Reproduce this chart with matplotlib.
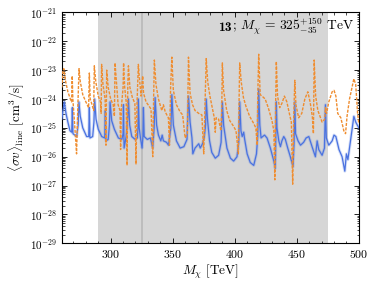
import numpy as np
import matplotlib
matplotlib.use("Agg")
import matplotlib.pyplot as plt
from matplotlib.ticker import MultipleLocator, LogLocator, NullFormatter

plt.rcParams["font.family"] = "serif"
plt.rcParams["font.serif"] = ["cmr10"]
plt.rcParams["mathtext.fontset"] = "cm"
plt.rcParams["axes.formatter.use_mathtext"] = True
plt.rcParams["axes.unicode_minus"] = False

# blue curve: (mass [TeV], log10 <sigma v>)
blue_x = [260.7, 261.5, 262.6, 264, 265.5, 267.2, 268.6, 269.1, 269.6, 272.6, 273.8, 274.4,
          275.5, 277.5, 280.6, 282.3, 282.8, 283.3, 285.5, 286.5, 287.1, 288.2, 290, 292.8,
          295.2, 295.7, 296.2, 298, 299, 299.5, 300.8, 303, 306.2, 309, 310.0, 310.3, 310.8,
          312.5, 313.8, 314.3, 315.3, 317, 319.7, 321.5, 322.0, 322.3, 323, 324, 325.3, 326.0,
          326.4, 327, 329.5, 332, 333.9, 335, 335.8, 337, 338.5, 340.4, 341.5, 342.5, 345,
          346.6, 348.5, 349.3, 350.5, 353, 356, 359, 361.5, 362.7, 364, 365.5, 366.2, 368, 371,
          372.2, 374, 375.5, 376.5, 377.0, 378, 379.7, 381.5, 384.3, 387, 389, 390, 391, 393.7,
          396.5, 399.1, 401.8, 403.2, 404, 405, 406, 407.2, 408, 410, 412.5, 415.3, 417.5,
          418.5, 419.3, 420.2, 421.2, 422.5, 424, 426, 428.7, 431.5, 432.7, 433.5, 434, 435.5,
          436.8, 438, 439.5, 440.8, 442.7, 444.8, 447, 447.8, 448.4, 449, 451, 453, 455.5,
          457.5, 459.7, 462.3, 465, 466.4, 467.7, 470.4, 472.3, 473.1, 473.8, 475.8, 478.5,
          480, 481.5, 484, 486.5, 488.7, 490, 491.2, 492.5, 494.5, 496, 497.5, 500]
blue_logy = [-24.7, -24.4, -24.1, -24.5, -24.8, -25.1, -25.15, -24.3, -25.2, -25.3, -24.9, -24.1,
             -24.6, -25.0, -25.3, -25.3, -24.3, -25.35, -25.3, -24.8, -24.0, -24.7, -25.05, -25.3,
             -25.35, -24.4, -25.45, -25.4, -24.9, -24.1, -24.75, -25.05, -25.35, -25.4, -25.2, -24.2, -25.7,
             -25.3, -24.6, -24.0, -24.9, -25.3, -25.4, -25.35, -25.0, -24.0, -25.0, -25.35, -25.7, -25.3,
             -24.3, -25.3, -25.4, -25.35, -25.7, -25.0, -23.95, -24.9, -25.25, -25.45, -25.25, -25.45, -25.5,
             -25.6, -25.0, -23.85, -24.9, -25.45, -25.7, -25.65, -25.4, -23.9, -24.8, -25.35, -25.9, -25.7, -25.55,
             -25.7, -25.55, -25.3, -24.9, -24.0, -24.7, -25.45, -25.85, -26.05, -25.95, -25.5, -24.1, -24.9, -25.7,
             -26.05, -26.15, -26.0, -25.5, -24.1, -25.1, -25.3, -25.15, -25.4, -25.9, -26.2, -26.3, -25.9,
             -25.3, -23.65, -24.9, -25.35, -25.3, -25.25, -25.35, -25.7, -26.15, -26.4, -24.1, -25.0, -25.45,
             -25.65, -25.45, -25.3, -25.4, -25.7, -26.0, -26.35, -25.5, -24.1, -25.2, -25.45, -25.6, -25.5,
             -25.35, -25.3, -25.65, -26.0, -25.45, -25.75, -25.95, -25.7, -24.2, -25.35, -25.6, -25.45,
             -25.25, -25.3, -25.75, -26.0, -26.5, -25.9, -26.1, -25.7, -25.1, -24.6, -24.8, -25.0]

# orange dashed curve
orange_x = [260.7, 261.5, 262.3, 263.5, 265.5, 267.5, 268.5, 269.0, 269.5, 271.0, 272.5, 273.5,
            274.5, 275.5, 277.5, 280.0, 282.2, 282.8, 283.5, 285.0, 286.3, 286.8, 288.0, 290.0,
            291.8, 292.3, 292.7, 293.8, 295.5, 296.2, 296.8, 298.0, 300.0, 302.0, 303.0, 303.5,
            304.8, 306.0, 307.5, 308.0, 308.6, 310.0, 310.4, 311.3, 312.5, 313.2, 313.8, 314.3,
            315.5, 317.5, 319.5, 320.4, 321.2, 322.3, 323.0, 324.5, 325.8, 326.5, 328.5, 331.0,
            332.5, 333.9, 334.6, 335.2, 336.5, 338.5, 341.2, 342.5, 344.0, 346.5, 347.4, 348.3,
            349.3, 350.5, 353.0, 356.0, 358.0, 360.0, 361.8, 362.7, 364.0, 366.0, 368.0, 371.0,
            373.5, 375.0, 376.0, 377.0, 378.2, 380.0, 383.5, 384.3, 385.0, 387.0, 388.8, 389.5,
            390.0, 391.0, 393.5, 396.0, 399.1, 401.0, 402.9, 403.5, 404.0, 405.2, 407.0, 409.0,
            412.0, 415.3, 417.0, 418.0, 418.6, 419.3, 420.5, 422.0, 424.5, 427.0, 430.0, 431.5,
            432.3, 433.0, 433.5, 434.5, 436.2, 438.0, 440.0, 442.0, 444.0, 445.6, 446.7, 447.6,
            448.4, 449.3, 451.5, 454.0, 456.5, 458.9, 460.7, 462.5, 463.4, 464.0, 465.2, 467.0,
            470.4, 472.5, 473.1, 474.0, 475.8, 478.5, 480.0, 481.5, 483.0, 485.5, 487.9, 489.3,
            490.5, 492.5, 494.5, 496.0, 497.5, 499.0, 500.0]
orange_logy = [-23.6, -23.0, -22.95, -23.35, -23.75, -24.0, -24.1, -23.2, -24.0, -24.9, -25.9, -24.3,
               -22.95, -23.4, -23.85, -24.1, -24.3, -23.1, -24.0, -24.2, -24.4, -22.85, -23.4, -23.9,
               -24.1, -24.5, -22.8, -23.5, -24.0, -25.6, -23.0, -23.6, -24.0, -24.2, -24.6, -22.75,
               -23.5, -24.2, -24.4, -25.75, -24.3, -23.6, -22.75, -23.6, -24.1, -26.3, -23.5, -22.85,
               -23.6, -23.95, -24.15, -26.25, -24.2, -22.8, -23.2, -23.9, -23.2, -23.8, -24.1, -24.25,
               -24.35, -26.0, -24.0, -22.65, -23.5, -24.0, -24.4, -24.2, -24.45, -24.65, -25.6, -23.6,
               -22.55, -23.7, -24.2, -24.45, -24.55, -25.35, -25.2, -22.55, -23.8, -24.2, -24.4, -24.5,
               -24.55, -25.9, -24.2, -22.6, -23.4, -23.9, -24.65, -25.15, -24.65, -24.7, -25.1, -24.4,
               -22.75, -23.7, -24.4, -24.75, -24.95, -25.1, -25.9, -24.0, -22.75, -23.4, -23.95, -24.25,
               -24.6, -24.85, -25.0, -25.6, -23.8, -22.45, -23.85, -23.9, -24.0, -24.3, -24.75, -25.1,
               -26.8, -24.0, -22.7, -23.9, -24.3, -24.15, -23.9, -24.1, -24.5, -24.8, -26.95, -24.5,
               -23.35, -24.2, -24.65, -24.5, -24.0, -23.75, -24.1, -24.6, -25.2, -22.65, -23.9, -24.4,
               -24.8, -24.7, -24.3, -24.5, -24.1, -23.75, -23.7, -23.9, -24.5, -24.65, -25.1, -25.2,
               -24.6, -24.0, -23.6, -23.3, -23.5, -24.5, -24.85]

band_lo, band_hi = 290, 475
best_mass = 325

fig = plt.figure(figsize=(3.73, 2.88), dpi=100)
ax = fig.add_axes([0.166, 0.155, 0.796, 0.802])

ax.axvspan(band_lo, band_hi, color="#d6d6d6", lw=0, zorder=0)
ax.axvline(best_mass, color="#bdbdbd", lw=1.4, zorder=1)

blue_y = 10.0 ** np.array(blue_logy)
orange_y = 10.0 ** np.array(orange_logy)
ax.plot(blue_x, blue_y, color="#5a80e4", lw=2.2, alpha=0.25, zorder=2)
ax.plot(blue_x, blue_y, color="#4a72e0", lw=0.9, zorder=3)
ax.plot(orange_x, orange_y, color="#ef8d30", lw=1.0, ls=(0, (2.2, 1.0)), zorder=4)

ax.set_yscale("log")
ax.set_xlim(260.7, 500)
ax.set_ylim(1e-29, 1e-21)
ax.xaxis.set_major_locator(MultipleLocator(50))
ax.xaxis.set_minor_locator(MultipleLocator(10))
ax.yaxis.set_major_locator(LogLocator(base=10, numticks=20))
ax.yaxis.set_minor_locator(LogLocator(base=10, subs=np.arange(2, 10), numticks=20))
ax.yaxis.set_minor_formatter(NullFormatter())
ax.tick_params(which="both", direction="in", top=True, right=True)
ax.tick_params(axis="x", labelsize=8.5)
ax.tick_params(axis="y", labelsize=8.0)
ax.tick_params(which="major", length=3.5, width=0.6)
ax.tick_params(which="minor", length=1.8, width=0.5)
for s in ax.spines.values():
    s.set_linewidth(0.8)

ax.set_xlabel(r"$M_\chi$ [TeV]", fontsize=9.5, labelpad=2)
ax.set_ylabel(r"$\langle\sigma v\rangle_{\rm line}$ [cm$^3$/s]", fontsize=9.5, labelpad=2)

# annotation: bold benchmark number, then the mass range
ty = 0.92
t_rest = ax.text(0.983, ty, r"; $M_\chi\,=\,325^{+150}_{-35}$ TeV",
                 transform=ax.transAxes, ha="right", va="baseline", fontsize=9.7)
fig.canvas.draw()
bb = t_rest.get_window_extent()
x_left = ax.transAxes.inverted().transform((bb.x0, bb.y0))[0]
ax.text(x_left, ty, "13", family="cmb10", transform=ax.transAxes,
        ha="right", va="baseline", fontsize=9.7)

fig.savefig("out.png", dpi=100)
